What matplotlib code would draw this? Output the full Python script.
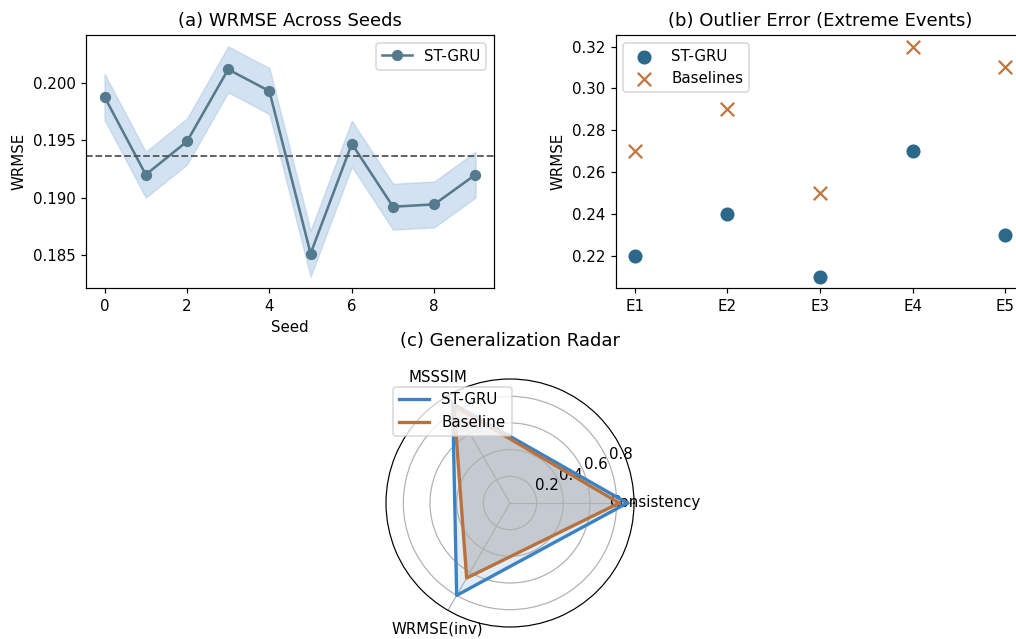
import matplotlib
matplotlib.use("Agg")
import matplotlib.pyplot as plt
import numpy as np

W, H = 1017, 639
DPI = 108

# (a) WRMSE across seeds
seeds = list(range(10))
wrmse_seeds = [0.1988, 0.1920, 0.1949, 0.2012, 0.1993, 0.1851, 0.1947, 0.1892, 0.1894, 0.1920]
band = 0.002

# (b) outlier error
events = ["E1", "E2", "E3", "E4", "E5"]
stgru_outlier = [0.22, 0.24, 0.21, 0.27, 0.23]
baseline_outlier = [0.27, 0.29, 0.25, 0.32, 0.31]

# (c) radar
radar_labels = ["Consistency", "MSSSIM", "WRMSE(inv)"]
radar_stgru = [0.88, 0.86, 0.80]
radar_baseline = [0.82, 0.84, 0.65]
radar_max = 0.93


def px(left, top, right, bottom):
    return [left / W, 1 - bottom / H, (right - left) / W, (bottom - top) / H]


fig = plt.figure(figsize=(W / DPI, H / DPI), dpi=DPI)

# panel a
ax1 = fig.add_axes(px(86, 35, 494, 288))
y = np.array(wrmse_seeds)
ax1.fill_between(seeds, y - band, y + band, color="#a9c6e3", alpha=0.5)
ax1.plot(seeds, y, marker="o", color="#557a8d", linewidth=1.7, markersize=6.5, label="ST-GRU")
ax1.axhline(y.mean(), color="#555555", linestyle="--", linewidth=1.2)
ax1.set_title("(a) WRMSE Across Seeds")
ax1.set_xlabel("Seed")
ax1.set_ylabel("WRMSE")
ax1.legend(loc="upper right")

# panel b
ax2 = fig.add_axes(px(616, 35, 1024, 288))
x = np.arange(len(events))
ax2.scatter(x, stgru_outlier, s=70, color="#2b6889", label="ST-GRU")
ax2.scatter(x, baseline_outlier, s=80, marker="x", color="#c0773f", label="Baselines")
ax2.set_xticks(x)
ax2.set_xticklabels(events)
ax2.set_title("(b) Outlier Error (Extreme Events)")
ax2.set_ylabel("WRMSE")
ax2.legend(loc="upper left")

# panel c
cx, cy, r = 510, 503, 124
ax3 = fig.add_axes(px(cx - r, cy - r, cx + r, cy + r), polar=True)
angles = np.linspace(0, 2 * np.pi, len(radar_labels), endpoint=False).tolist()
angles += angles[:1]
s_vals = radar_stgru + radar_stgru[:1]
b_vals = radar_baseline + radar_baseline[:1]
ax3.plot(angles, s_vals, color="#3a82c2", linewidth=2.2, label="ST-GRU")
ax3.fill(angles, s_vals, color="#3a82c2", alpha=0.15)
ax3.plot(angles, b_vals, color="#b8713f", linewidth=2.2, label="Baseline")
ax3.fill(angles, b_vals, color="#999999", alpha=0.4)
ax3.set_xticks(angles[:-1])
ax3.set_xticklabels(radar_labels)
ax3.set_ylim(0, radar_max)
ax3.set_title("(c) Generalization Radar", pad=22)
ax3.legend(loc="upper left")

fig.savefig("out.png", dpi=DPI)
